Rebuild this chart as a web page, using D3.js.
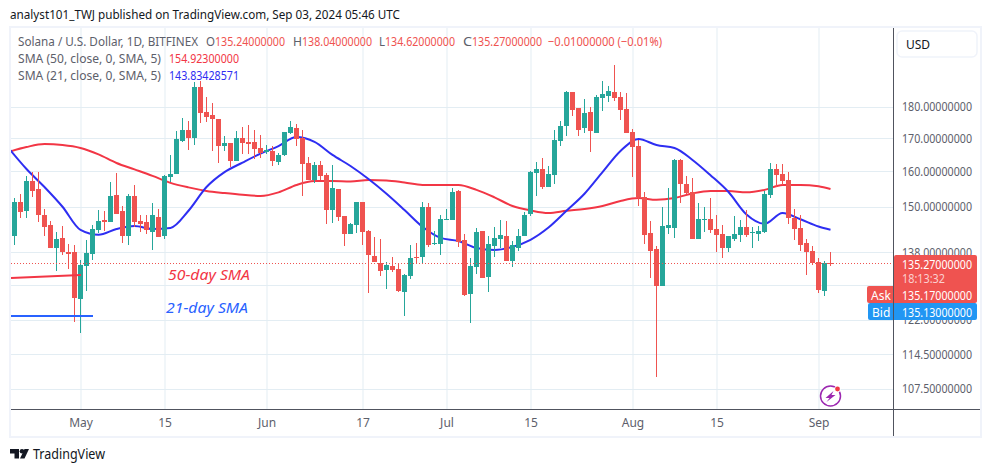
<!DOCTYPE html>
<html>
<head>
<meta charset="utf-8">
<title>Solana / U.S. Dollar</title>
<script src="https://cdn.jsdelivr.net/npm/d3@7"></script>
<style>
  body { margin: 0; background: #fff; }
  svg { display: block; font-family: "Noto Sans", sans-serif; }
</style>
</head>
<body>
<svg id="chart" width="991" height="472"></svg>
<script>
// Daily candles, 20 Apr 2024 to 3 Sep 2024
const opens = [142.2,151.3,148.9,157.2,155.0,147.8,145.1,139.1,141.7,138.1,138.1,126.8,134.6,137.6,143.8,146.4,145.9,153.3,148.9,142.2,
  153.0,146.2,145.9,143.3,147.2,142.2,158.4,159.3,169.2,172.6,170.1,186.7,178.4,177.4,176.1,167.6,168.6,163.1,170.1,168.9,
  168.9,167.0,165.8,166.1,162.8,164.9,171.7,173.2,170.1,162.5,157.5,161.9,159.0,149.1,155.0,147.5,142.7,145.1,151.3,143.5,
  137.1,135.4,133.7,134.6,133.9,128.4,132.2,136.9,136.9,150.0,140.2,140.2,146.4,146.4,154.4,141.2,128.0,134.4,143.5,132.0,
  139.7,141.4,142.2,135.9,139.1,142.2,148.1,159.6,160.7,155.5,159.0,169.2,173.9,185.0,179.7,173.2,178.4,171.7,183.0,183.7,
  185.0,183.3,179.4,172.0,167.6,152.7,143.0,138.9,129.8,144.3,144.3,163.4,156.4,154.1,141.4,146.4,146.7,144.0,142.7,139.1,
  141.4,142.5,144.6,143.0,142.7,143.3,153.3,160.7,159.3,157.5,147.0,144.3,140.4,138.4,135.6,128.6,135.28];
const highs = [152.4,153.6,158.7,159.9,159.9,149.4,146.2,143.3,144.8,140.2,139.9,136.1,141.2,145.1,149.1,148.9,157.0,159.6,150.2,153.6,
  156.1,147.8,147.8,151.1,149.4,159.0,164.9,172.3,176.5,175.5,188.4,188.8,183.3,181.3,176.1,170.7,168.6,172.3,173.6,174.2,
  172.6,171.0,167.9,167.6,165.5,172.0,175.5,174.5,172.6,164.3,162.8,163.1,159.6,161.9,155.0,147.5,145.6,151.3,151.3,143.8,
  142.0,141.4,135.6,136.9,135.4,132.7,139.9,140.4,151.3,151.1,143.5,147.8,149.4,155.2,154.7,142.7,136.6,144.3,143.5,142.2,
  144.6,146.4,146.2,140.9,144.0,148.6,160.1,162.8,164.0,161.6,172.6,175.5,185.3,185.0,179.7,182.7,180.0,184.0,188.8,187.0,
  194.4,185.0,184.7,172.9,169.5,154.1,146.2,139.7,150.0,155.2,163.7,163.7,158.7,158.1,151.1,150.0,152.4,147.8,145.1,142.2,
  147.5,146.4,149.1,144.6,144.8,154.4,162.5,162.2,162.2,159.9,149.4,147.8,141.4,139.7,136.6,135.9,138.04];
const lows = [139.9,147.0,147.0,152.7,145.9,142.2,139.1,133.4,137.4,133.9,121.6,119.1,128.6,136.1,143.0,143.5,145.9,148.1,140.4,139.9,
  144.6,143.3,142.7,138.6,142.0,141.4,157.0,159.3,168.9,166.4,167.9,174.8,175.2,166.1,162.5,166.1,161.3,163.1,165.2,165.2,
  163.7,164.0,165.2,161.6,161.9,164.6,171.3,167.6,153.0,157.5,156.7,157.5,145.4,145.6,146.2,139.7,142.7,143.0,139.9,128.2,
  135.6,132.2,129.1,133.2,128.4,122.9,131.5,135.1,135.4,139.4,139.9,137.4,146.4,146.4,139.4,127.5,121.3,132.7,131.7,128.4,
  136.9,139.1,135.9,134.4,138.4,142.2,147.5,153.0,155.0,155.5,156.4,167.6,170.7,177.1,170.7,171.7,165.8,171.7,178.7,181.7,
  182.0,175.8,171.7,158.4,150.2,140.2,131.7,109.9,129.8,142.7,141.7,151.1,153.6,141.4,141.4,143.3,143.0,138.1,136.6,138.1,
  140.9,140.7,142.0,139.1,140.9,143.0,152.4,155.5,156.1,145.4,141.2,138.4,132.5,134.9,128.2,127.5,134.62];
const closes = [151.3,148.6,157.2,154.4,147.8,144.6,139.1,141.4,138.1,137.6,127.0,134.9,137.9,144.0,146.2,145.9,153.0,148.1,142.2,153.0,
  145.9,145.4,143.8,147.8,142.0,158.7,159.3,169.8,172.6,170.1,186.7,178.1,176.8,176.1,167.6,168.6,163.1,170.1,168.6,168.2,
  166.7,165.5,166.4,163.1,164.9,172.0,173.6,169.8,162.2,157.5,161.9,158.7,149.1,155.2,147.2,142.7,145.4,151.3,143.3,137.4,
  135.6,133.4,134.9,133.7,128.6,132.5,136.6,136.6,150.0,139.9,140.4,146.7,146.7,154.1,140.7,127.7,134.6,143.3,131.7,140.2,
  141.7,142.5,135.9,139.9,142.2,147.8,159.9,160.7,155.5,159.3,169.5,173.9,185.0,179.0,172.6,178.1,172.3,183.3,184.3,185.3,
  183.0,179.0,171.7,167.3,152.7,142.5,138.4,129.8,144.8,145.1,163.4,156.4,153.8,141.4,146.7,146.7,143.8,142.5,139.1,142.2,
  142.7,144.6,142.5,143.3,143.5,153.6,160.7,159.0,157.2,147.0,144.0,139.9,138.1,135.4,128.9,135.4,135.27];

// Moving averages, read every third day (candle index, -1 is just left of the plot)
const smaDays = [-1,2,5,8,11,14,17,20,23,26,29,32,35,38,41,44,47,50,53,56,59,62,65,68,71,74,77,80,83,86,89,92,95,98,101,104,107,110,113,116,119,122,125,128,131,134,136];
const sma50 = [165.8,167.3,168.2,167.9,167.0,165.05,162.5,160.6,158.7,156.7,155.4,154.4,153.8,153.3,153.0,154.0,156.1,157.2,157.2,157.1,157.5,157.4,156.8,156.1,156.1,156.1,154.7,152.6,150.2,149.0,148.3,148.9,149.4,150.2,151.6,152.4,151.9,152.4,153.7,154.4,154.4,154.0,154.7,156.1,156.1,155.7,154.923];
const sma21 = [167.0,160.7,155.5,150.0,143.78,142.5,144.0,144.8,144.0,144.3,148.9,155.5,159.8,162.6,165.3,167.6,170.4,168.9,164.9,161.6,157.8,153.6,149.1,144.6,141.7,140.9,139.1,138.6,139.4,141.2,144.4,148.9,153.6,159.8,166.1,169.8,167.9,167.0,163.4,158.9,154.1,147.9,145.4,148.3,146.6,144.7,143.834];

// Axes
const gridPrices = [180, 170, 160, 150, 138, 130, 122, 114.5, 107.5];
const priceTicks = [180, 170, 160, 150, 138, 122, 114.5, 107.5];
const timeTicks = ['2024-05-01', '2024-05-15', '2024-06-01', '2024-06-17', '2024-07-01', '2024-07-15', '2024-08-01', '2024-08-15', '2024-09-01'];
const timeLabels = ['May', '15', 'Jun', '17', 'Jul', '15', 'Aug', '15', 'Sep'];

// Last price and the quotes beside it
const lastPrice = 135.27;
const askPrice = 135.17;
const bidPrice = 135.13;

const RED = '#ef5350';
const GREEN = '#26a69a';
const LINE_RED = '#f23645';
const LINE_BLUE = '#2e2ef2';
const NOTE_BLUE = '#2962ff';
const GRID = '#e3edf3';
const AXIS = '#50535e';
const LABEL = '#5d606b';

const firstDay = new Date(Date.UTC(2024, 3, 20));
const dayAt = i => d3.utcDay.offset(firstDay, i);

const x = d3.scaleUtc().domain([firstDay, dayAt(136)]).range([14.5, 830.5]);
const y = d3.scaleLog().domain([107.5, 180]).range([389, 107]);
const py = v => Math.round(y(v));

const svg = d3.select('#chart');
const parseDay = d3.utcParse('%Y-%m-%d');
const tickDates = timeTicks.map(parseDay);

svg.append('defs').append('clipPath').attr('id', 'plot')
  .append('rect').attr('x', 11).attr('y', 28).attr('width', 882).attr('height', 381);

// Grid, drawn with the axis generators
const gridY = svg.append('g').attr('transform', 'translate(11,0)')
  .call(d3.axisRight(y).tickValues(gridPrices).tickSize(882).tickFormat(''));
const gridX = svg.append('g').attr('transform', 'translate(0,28)')
  .call(d3.axisBottom(x).tickValues(tickDates).tickSize(381).tickFormat(''));
[gridY, gridX].forEach(g => {
  g.select('.domain').remove();
  g.selectAll('line').attr('stroke', GRID).attr('stroke-width', 1);
});
gridY.selectAll('.tick').attr('transform', d => `translate(0,${py(d) + 0.5})`);

const plot = svg.append('g').attr('clip-path', 'url(#plot)');

// Moving averages go under the candles
const smaLine = values => d3.line()
  .x(d => x(dayAt(d)))
  .y((d, i) => y(values[i]))
  .curve(d3.curveMonotoneX)(smaDays);

plot.append('path').attr('d', smaLine(sma50)).attr('fill', 'none')
  .attr('stroke', LINE_RED).attr('stroke-width', 2);
plot.append('path').attr('d', smaLine(sma21)).attr('fill', 'none')
  .attr('stroke', LINE_BLUE).attr('stroke-width', 2);

// Candles
const candles = plot.selectAll('g.candle')
  .data(d3.range(opens.length))
  .enter().append('g')
  .attr('class', 'candle')
  .attr('fill', i => closes[i] > opens[i] ? GREEN : RED);

candles.append('rect')
  .attr('x', i => Math.floor(x(dayAt(i))))
  .attr('width', 1)
  .attr('y', i => py(highs[i]))
  .attr('height', i => Math.max(1, py(lows[i]) - py(highs[i])));

candles.append('rect')
  .attr('x', i => Math.floor(x(dayAt(i))) - 2)
  .attr('width', 5)
  .attr('y', i => py(Math.max(opens[i], closes[i])))
  .attr('height', i => Math.max(1, py(Math.min(opens[i], closes[i])) - py(Math.max(opens[i], closes[i]))));

// Last price line
svg.append('line')
  .attr('x1', 11).attr('x2', 893)
  .attr('y1', py(lastPrice) + 0.5).attr('y2', py(lastPrice) + 0.5)
  .attr('stroke', RED).attr('stroke-dasharray', '1 2');

// Hand drawn notes on the chart
svg.append('line').attr('x1', 11).attr('y1', 278).attr('x2', 81).attr('y2', 275)
  .attr('stroke', LINE_RED).attr('stroke-width', 2);
svg.append('line').attr('x1', 11).attr('y1', 316).attr('x2', 93).attr('y2', 316)
  .attr('stroke', NOTE_BLUE).attr('stroke-width', 2);
svg.append('text').attr('x', 168).attr('y', 280).text('50-day SMA')
  .attr('fill', LINE_RED).attr('font-style', 'italic').attr('font-size', 15)
  .attr('textLength', 82).attr('lengthAdjust', 'spacingAndGlyphs');
svg.append('text').attr('x', 166).attr('y', 313).text('21-day SMA')
  .attr('fill', NOTE_BLUE).attr('font-style', 'italic').attr('font-size', 15)
  .attr('textLength', 82).attr('lengthAdjust', 'spacingAndGlyphs');

// Frame and axis lines
svg.append('rect').attr('x', 10).attr('y', 27).attr('width', 971).attr('height', 410)
  .attr('fill', 'none').attr('stroke', '#f0f3fa').attr('stroke-width', 2);
svg.append('line').attr('x1', 893.5).attr('x2', 893.5).attr('y1', 28).attr('y2', 436).attr('stroke', AXIS);
svg.append('line').attr('x1', 11).attr('x2', 980).attr('y1', 409.5).attr('y2', 409.5).attr('stroke', AXIS);

// Price labels
const yAxis = svg.append('g').attr('transform', 'translate(893,0)')
  .call(d3.axisRight(y).tickValues(priceTicks).tickSize(0).tickPadding(9).tickFormat(d3.format('.8f')));
yAxis.select('.domain').remove();
yAxis.selectAll('text')
  .attr('font-family', '"Noto Sans", sans-serif').attr('font-size', 12).attr('fill', LABEL)
  .attr('textLength', 70).attr('lengthAdjust', 'spacingAndGlyphs');

// Time labels
const xAxis = svg.append('g').attr('transform', 'translate(0,409)')
  .call(d3.axisBottom(x).tickValues(tickDates).tickSize(0).tickPadding(9).tickFormat((d, i) => timeLabels[i]));
xAxis.select('.domain').remove();
xAxis.selectAll('text')
  .attr('font-family', '"Noto Sans", sans-serif').attr('font-size', 12).attr('fill', LABEL);

// Price tags on the right
const fmt = d3.format('.8f');
function priceTag(px, py2, w, h, fill) {
  svg.append('rect').attr('x', px).attr('y', py2).attr('width', w).attr('height', h).attr('rx', 2).attr('fill', fill);
}
function tagText(tx, ty, str, fill, len) {
  const t = svg.append('text').attr('x', tx).attr('y', ty).text(str)
    .attr('font-size', 12).attr('fill', fill).attr('dominant-baseline', 'central');
  if (len) t.attr('textLength', len).attr('lengthAdjust', 'spacingAndGlyphs');
}
priceTag(894, 255, 83, 47, RED);
priceTag(867, 286, 110, 17, RED);
priceTag(868, 303, 109, 17, '#2196f3');
svg.append('line').attr('x1', 893.5).attr('x2', 893.5).attr('y1', 286).attr('y2', 320).attr('stroke', AXIS);
tagText(902, 264, fmt(lastPrice), '#fff', 70);
tagText(902, 278, '18:13:32', '#fbd0cf', 43);
tagText(871, 295, 'Ask', '#fff');
tagText(902, 295, fmt(askPrice), '#fff', 70);
tagText(872, 312, 'Bid', '#fff');
tagText(902, 312, fmt(bidPrice), '#fff', 70);

// Currency button
svg.append('rect').attr('x', 897).attr('y', 31).attr('width', 80).attr('height', 26).attr('rx', 5)
  .attr('fill', '#fff').attr('stroke', '#f0f3fa').attr('stroke-width', 1.5);
tagText(906, 44, 'USD', '#131722');

// Header and legend
svg.append('text').attr('x', 10).attr('y', 19)
  .text('analyst101_TWJ published on TradingView.com, Sep 03, 2024 05:46 UTC')
  .attr('font-size', 12.5).attr('fill', '#131722').attr('textLength', 390).attr('lengthAdjust', 'spacingAndGlyphs');

function legendText(tx, ty, str, fill, len) {
  svg.append('text').attr('x', tx).attr('y', ty).text(str).attr('font-size', 12).attr('fill', fill)
    .attr('textLength', len).attr('lengthAdjust', 'spacingAndGlyphs');
}
legendText(18, 46, 'Solana / U.S. Dollar, 1D, BITFINEX', LABEL, 180);
[['O', '135.24000000', 206, 215], ['H', '138.04000000', 293, 302], ['L', '134.62000000', 379, 385], ['C', '135.27000000', 463, 472]]
  .forEach(([k, v, tx, vx]) => {
    legendText(tx, 46, k, LABEL, vx - tx);
    legendText(vx, 46, v, RED, 70);
  });
legendText(548, 46, '\u22120.01000000 (\u22120.01%)', RED, 114);
legendText(18, 63, 'SMA (50, close, 0, SMA, 5)', LABEL, 143);
legendText(169, 63, '154.92300000', LINE_RED, 70);
legendText(18, 80, 'SMA (21, close, 0, SMA, 5)', LABEL, 143);
legendText(169, 80, '143.83428571', LINE_BLUE, 70);

// TradingView mark
const logo = svg.append('g').attr('transform', 'translate(10,449)').attr('fill', '#131722');
logo.append('path').attr('d', 'M0 0H9V9.5H4.5V4.5H0Z');
logo.append('circle').attr('cx', 12).attr('cy', 2.3).attr('r', 2.3);
logo.append('path').attr('d', 'M14.5 9.5L19 0H14.5L10 9.5Z');
svg.append('text').attr('x', 33).attr('y', 459).text('TradingView')
  .attr('font-size', 14.5).attr('fill', '#131722').attr('textLength', 72).attr('lengthAdjust', 'spacingAndGlyphs');

// Lightning badge
const badge = svg.append('g').attr('transform', 'translate(830.5,396)');
badge.append('circle').attr('r', 10).attr('fill', '#fff').attr('stroke', '#9c27b0').attr('stroke-width', 1.5);
badge.append('path').attr('d', 'M3 -5L-5 2H-1L-4 6L5 -1H1Z').attr('fill', '#9c27b0');
badge.append('circle').attr('cx', 7).attr('cy', -7).attr('r', 3.2).attr('fill', '#fff');
badge.append('circle').attr('cx', 7).attr('cy', -7).attr('r', 2.4).attr('fill', '#f23645');
</script>
</body>
</html>
